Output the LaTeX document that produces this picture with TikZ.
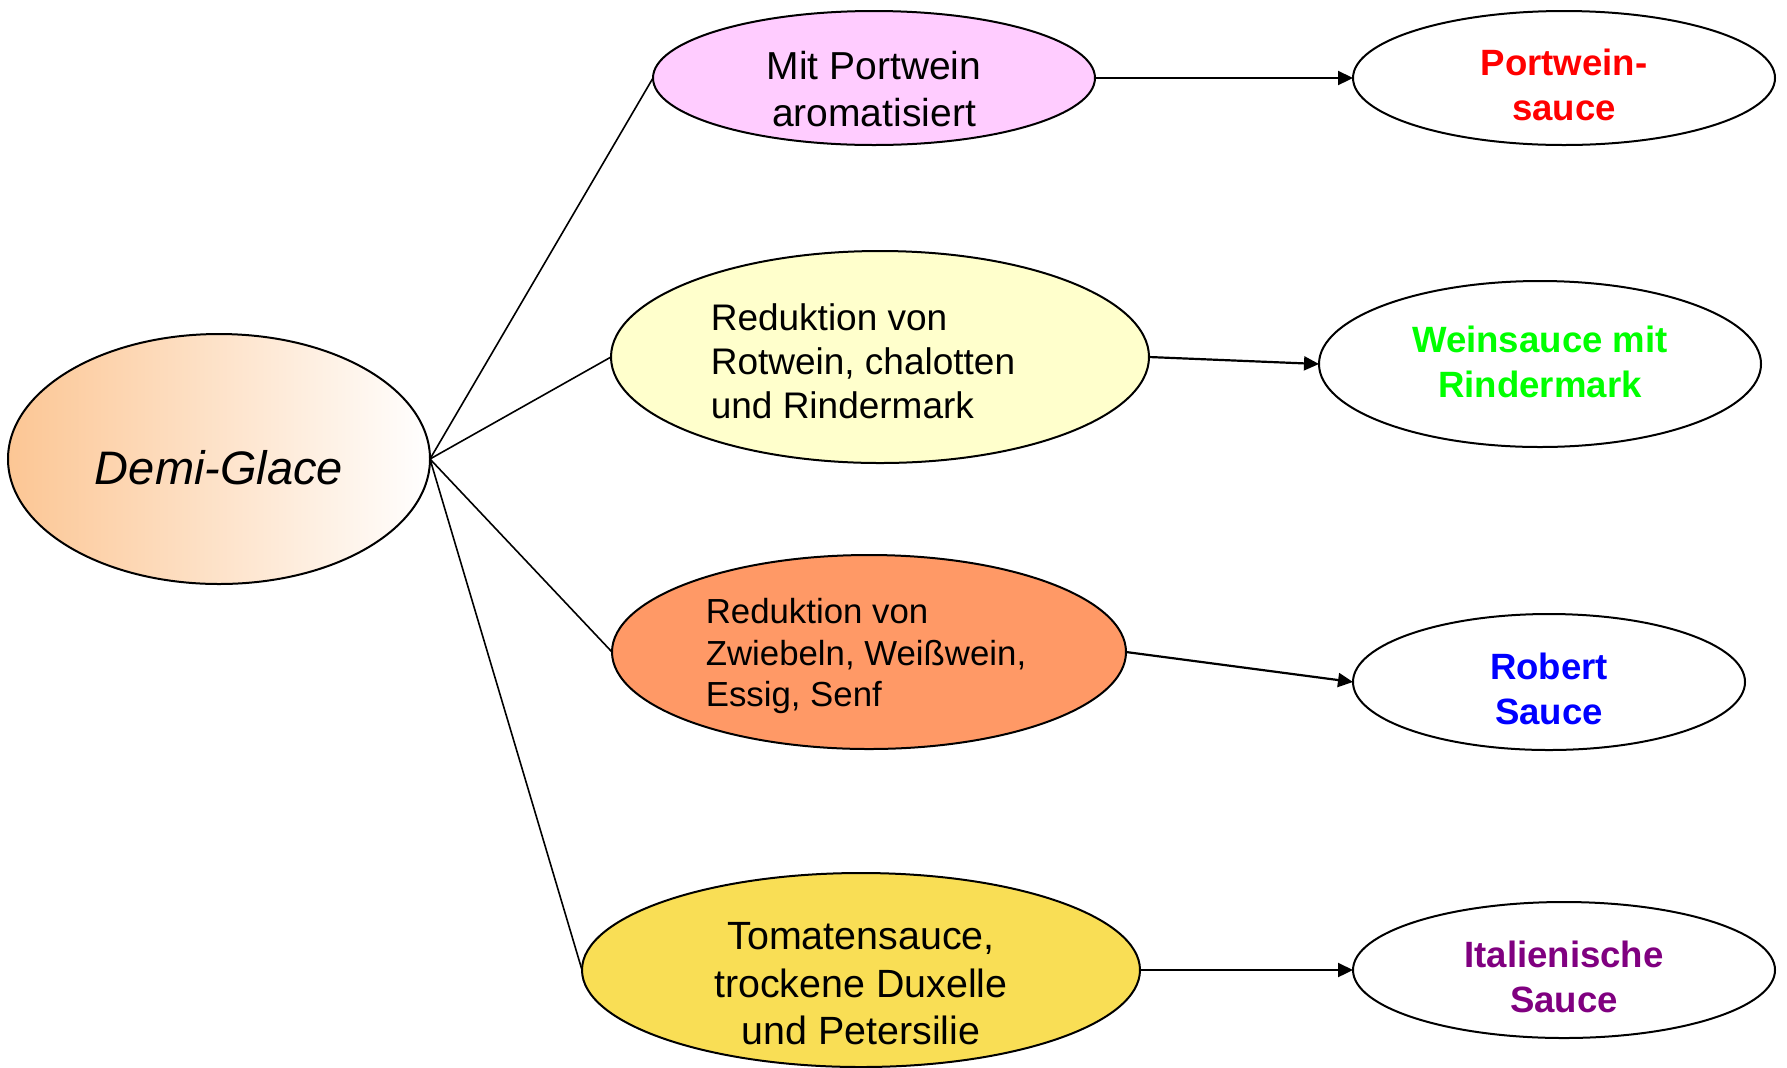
\documentclass[tikz,border=0pt]{standalone}
\usepackage{fontspec}
\setmainfont{Liberation Sans}
\usetikzlibrary{shapes.geometric,arrows.meta}
\definecolor{peach}{RGB}{252,198,148}
\definecolor{pinkfill}{RGB}{255,204,255}
\definecolor{lightyellow}{RGB}{255,255,204}
\definecolor{orangefill}{RGB}{255,153,102}
\definecolor{goldfill}{RGB}{249,222,85}
\definecolor{tred}{RGB}{255,0,0}
\definecolor{tgreen}{RGB}{0,255,0}
\definecolor{tblue}{RGB}{0,0,255}
\definecolor{tpurple}{RGB}{128,0,128}
\begin{document}
\begin{tikzpicture}[x=0.5pt,y=-0.5pt,
  ell/.style={ellipse,draw=black,line width=1pt,inner sep=0pt,outer sep=0pt},
  link/.style={draw=black,line width=0.8pt},
  arr/.style={draw=black,line width=1.1pt,-{Triangle[length=7.5pt,width=7pt]}},
  lbl/.style={inner sep=0pt,align=center},
  res/.style={lbl,font=\fontsize{18.3}{22.5}\selectfont\bfseries},
]
\useasboundingbox (0,0) rectangle (1787,1067);

% ellipses
\node[ell,minimum width=211pt,minimum height=125pt,left color=peach,right color=white] (dg) at (219,459) {};
\node[ell,fill=pinkfill,minimum width=221pt,minimum height=67pt] (m1) at (874,78) {};
\node[ell,fill=lightyellow,minimum width=269pt,minimum height=106pt] (m2) at (880,357) {};
\node[ell,fill=orangefill,minimum width=257pt,minimum height=97pt] (m3) at (869,652) {};
\node[ell,fill=goldfill,minimum width=279pt,minimum height=97pt] (m4) at (861,970) {};
\node[ell,fill=white,minimum width=211pt,minimum height=67pt] (r1) at (1564,78) {};
\node[ell,fill=white,minimum width=221pt,minimum height=83pt] (r2) at (1540,364) {};
\node[ell,fill=white,minimum width=196pt,minimum height=68pt] (r3) at (1549,682) {};
\node[ell,fill=white,minimum width=211pt,minimum height=68pt] (r4) at (1564,970) {};

% texts
\node[lbl,font=\fontsize{23.5}{28}\selectfont\itshape] (dgt) at (219,468) {Demi-Glace};
\node[lbl,font=\fontsize{19.5}{23.5}\selectfont] (m1t) at (874,89) {Mit Portwein\\aromatisiert};
\node[lbl,align=left,font=\fontsize{18.5}{22}\selectfont] (m2t) at (863,361) {Reduktion von\\Rotwein, chalotten\\und Rindermark};
\node[lbl,align=left,font=\fontsize{17.4}{20.9}\selectfont] (m3t) at (866,656) {Reduktion von\\Zwiebeln, Weißwein,\\Essig, Senf};
\node[lbl,font=\fontsize{19.7}{23.7}\selectfont] (m4t) at (861,984) {Tomatensauce,\\trockene Duxelle\\und Petersilie};
\node[res,text=tred] (r1t) at (1564,85) {Portwein-\\sauce};
\node[res,text=tgreen] (r2t) at (1540,362) {Weinsauce mit\\Rindermark};
\node[res,text=tblue] (r3t) at (1549,689) {Robert\\Sauce};
\node[res,text=tpurple] (r4t) at (1564,977) {Italienische\\Sauce};

% connectors
\draw[link] (dg.east) -- (m1.west);
\draw[link] (dg.east) -- (m2.west);
\draw[link] (dg.east) -- (m3.west);
\draw[link] (dg.east) -- (m4.west);

\draw[arr] (m1.east) -- (r1.west);
\draw[arr] (m2.east) -- (r2.west);
\draw[arr] (m3.east) -- (r3.west);
\draw[arr] (m4.east) -- (r4.west);
\end{tikzpicture}
\end{document}
